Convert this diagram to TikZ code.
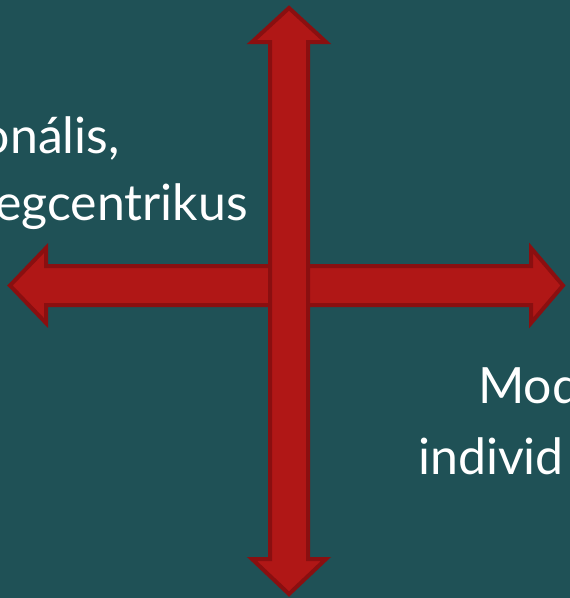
\documentclass[tikz,border=0pt]{standalone}
\usepackage{fontspec}
\setmainfont{Lato}
\definecolor{bgteal}{HTML}{1F5156}
\definecolor{arrred}{HTML}{B01716}
\definecolor{arrdark}{HTML}{8A0F10}

\begin{document}
\begin{tikzpicture}[x=1pt,y=-1pt,font=\fontsize{50}{60}\selectfont]
\tikzstyle{arr}=[fill=arrred,draw=arrdark,line width=4pt,line join=miter]
\tikzstyle{t}=[text=white,inner sep=0pt]
\fill[bgteal] (0,0) rectangle (570,598);
\useasboundingbox (0,0) rectangle (570,598);
\clip (0,0) rectangle (570,598);
% horizontal arrow first, vertical one on top
\draw[arr] (10,285.5) -- (46,248) -- (46,266) -- (531,266) -- (531,248) -- (563,285.5) -- (531,323) -- (531,305) -- (46,305) -- (46,323) -- cycle;
\draw[arr] (289,8) -- (326,42) -- (308,42) -- (308,559) -- (326,559) -- (289,594) -- (252,559) -- (270,559) -- (270,42) -- (252,42) -- cycle;
\node[t,anchor=base east] (l1) at (120,153) {onális,};
\node[t,anchor=base east] (l2) at (248,220) {egcentrikus};
\node[t,anchor=base west] (r1) at (478,403) {Mod};
\node[t,anchor=base west] (r2) at (418,474) {individ};
\end{tikzpicture}
\end{document}
